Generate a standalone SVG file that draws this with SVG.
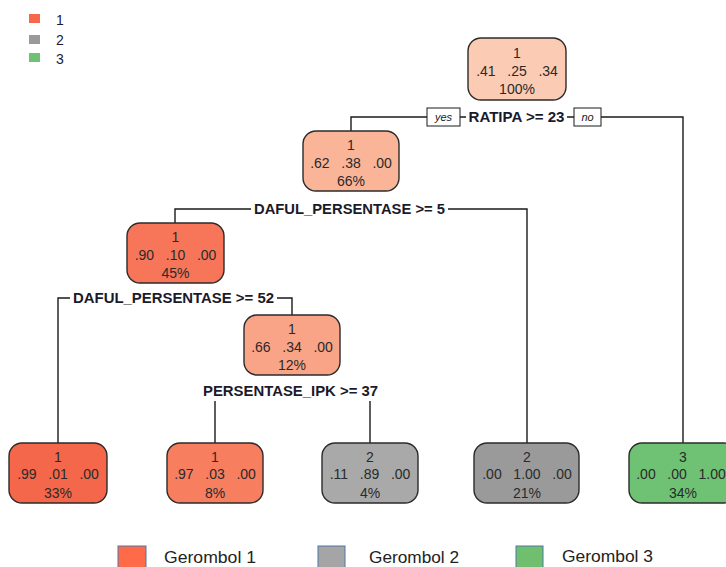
<svg xmlns="http://www.w3.org/2000/svg" width="726" height="567" viewBox="0 0 726 567">
<style>
.bg{fill:#ffffff}
.node{stroke:#2b2b2b;stroke-width:1.4}
.nt{font-family:"Liberation Sans",Arial,sans-serif;font-size:14px;fill:#2a2a2a;text-anchor:middle}
.lab{font-family:"Liberation Sans",Arial,sans-serif;font-size:14px;font-weight:bold;fill:#1a1a2a;text-anchor:middle}
.yn{font-family:"Liberation Sans",Arial,sans-serif;font-size:11px;font-style:italic;fill:#1a1a1a;text-anchor:middle}
.ynbox{fill:#ffffff;stroke:#1a1a1a;stroke-width:1}
.conn{fill:none;stroke:#1a1a1a;stroke-width:1.4}
.leg{font-family:"Liberation Sans",Arial,sans-serif;font-size:14px;fill:#1a1a3a}
.leg2{font-family:"Liberation Sans",Arial,sans-serif;font-size:16px;fill:#222}
.lsq{stroke:#4f76a8;stroke-width:1}
</style>
<rect class="bg" x="0" y="0" width="726" height="567"/>

<g id="connectors">
  <path class="conn" d="M351,131 V117 H683 V443"/>
  <path class="conn" d="M175,223 V209 H527 V443"/>
  <path class="conn" d="M58,443 V298 H292 V315"/>
  <path class="conn" d="M215,443 V391 H370 V443"/>
</g>

<g id="split-labels">
  <g id="split1">
    <rect x="466" y="109" width="101" height="16" fill="#fff"/>
    <text class="lab" x="516.5" y="122" textLength="96" lengthAdjust="spacingAndGlyphs">RATIPA &gt;= 23</text>
    <rect class="ynbox" x="427" y="108" width="33" height="18"/>
    <text class="yn" x="443.5" y="121">yes</text>
    <rect class="ynbox" x="574" y="108" width="27" height="18"/>
    <text class="yn" x="587.5" y="121">no</text>
  </g>
  <g id="split2">
    <rect x="251" y="201" width="197" height="16" fill="#fff"/>
    <text class="lab" x="349.5" y="214" textLength="191" lengthAdjust="spacingAndGlyphs">DAFUL_PERSENTASE &gt;= 5</text>
  </g>
  <g id="split3">
    <rect x="70" y="290" width="207" height="16" fill="#fff"/>
    <text class="lab" x="173.5" y="303" textLength="201" lengthAdjust="spacingAndGlyphs">DAFUL_PERSENTASE &gt;= 52</text>
  </g>
  <g id="split4">
    <rect x="200" y="383" width="181" height="18" fill="#fff"/>
    <text class="lab" x="290.5" y="396" textLength="175" lengthAdjust="spacingAndGlyphs">PERSENTASE_IPK &gt;= 37</text>
  </g>
</g>

<g id="node-root">
  <rect class="node" x="468" y="38" width="98" height="62" rx="13" fill="#FCCBB4"/>
  <text class="nt" x="517" y="58">1</text>
  <text class="nt" x="517" y="76" xml:space="preserve">.41   .25   .34</text>
  <text class="nt" x="517" y="94">100%</text>
</g>
<g id="node-2">
  <rect class="node" x="303" y="131" width="96" height="60" rx="13" fill="#FAB497"/>
  <text class="nt" x="351" y="150">1</text>
  <text class="nt" x="351" y="168" xml:space="preserve">.62   .38   .00</text>
  <text class="nt" x="351" y="186">66%</text>
</g>
<g id="node-3">
  <rect class="node" x="127" y="223" width="97" height="60" rx="13" fill="#F7765A"/>
  <text class="nt" x="175.5" y="242">1</text>
  <text class="nt" x="175.5" y="260" xml:space="preserve">.90   .10   .00</text>
  <text class="nt" x="175.5" y="278">45%</text>
</g>
<g id="node-4">
  <rect class="node" x="244" y="315" width="96" height="60" rx="13" fill="#F9A487"/>
  <text class="nt" x="292" y="334">1</text>
  <text class="nt" x="292" y="352" xml:space="preserve">.66   .34   .00</text>
  <text class="nt" x="292" y="370">12%</text>
</g>
<g id="leaf-1">
  <rect class="node" x="9" y="443" width="98" height="60" rx="13" fill="#F5674A"/>
  <text class="nt" x="58" y="462">1</text>
  <text class="nt" x="58" y="479" xml:space="preserve">.99   .01   .00</text>
  <text class="nt" x="58" y="498">33%</text>
</g>
<g id="leaf-2">
  <rect class="node" x="167" y="443" width="96" height="60" rx="13" fill="#F77E5F"/>
  <text class="nt" x="215" y="462">1</text>
  <text class="nt" x="215" y="479" xml:space="preserve">.97   .03   .00</text>
  <text class="nt" x="215" y="498">8%</text>
</g>
<g id="leaf-3">
  <rect class="node" x="322" y="443" width="96" height="60" rx="13" fill="#A9A9A9"/>
  <text class="nt" x="370" y="462">2</text>
  <text class="nt" x="370" y="479" xml:space="preserve">.11   .89   .00</text>
  <text class="nt" x="370" y="498">4%</text>
</g>
<g id="leaf-4">
  <rect class="node" x="474" y="443" width="105" height="60" rx="13" fill="#9A9A9A"/>
  <text class="nt" x="527" y="462">2</text>
  <text class="nt" x="527" y="479" xml:space="preserve">.00   1.00   .00</text>
  <text class="nt" x="527" y="498">21%</text>
</g>
<g id="leaf-5">
  <rect class="node" x="629" y="443" width="108" height="60" rx="13" fill="#6FC274"/>
  <text class="nt" x="683" y="462">3</text>
  <text class="nt" x="681" y="479" xml:space="preserve">.00   .00   1.00</text>
  <text class="nt" x="683" y="498">34%</text>
</g>

<g id="legend-top">
  <rect x="29" y="14" width="11" height="9" fill="#F5694A"/>
  <rect x="29" y="35" width="11" height="9" fill="#9A9A9A"/>
  <rect x="29" y="53" width="11" height="9" fill="#6FC274"/>
  <text class="leg" x="56" y="25">1</text>
  <text class="leg" x="56" y="45">2</text>
  <text class="leg" x="56" y="64">3</text>
</g>

<g id="legend-bottom">
  <rect class="lsq" x="118" y="546" width="28" height="24" fill="#FF6A48"/>
  <rect class="lsq" x="318" y="546" width="27" height="24" fill="#A5A5A5"/>
  <rect class="lsq" x="516" y="546" width="27" height="24" fill="#70BF6E"/>
  <text class="leg2" x="164" y="563" textLength="92" lengthAdjust="spacingAndGlyphs">Gerombol 1</text>
  <text class="leg2" x="369" y="563" textLength="90" lengthAdjust="spacingAndGlyphs">Gerombol 2</text>
  <text class="leg2" x="562" y="562" textLength="91" lengthAdjust="spacingAndGlyphs">Gerombol 3</text>
</g>
</svg>
